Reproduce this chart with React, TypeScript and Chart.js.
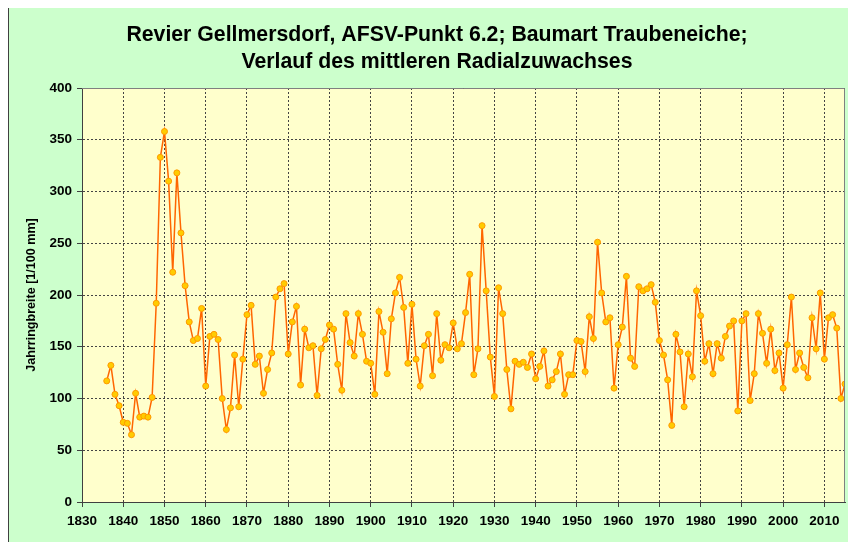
import React, { useEffect, useRef } from "react";
import { Chart, registerables } from "chart.js";

Chart.register(...registerables);

const TITLE_LINES = [
  "Revier Gellmersdorf, AFSV-Punkt 6.2; Baumart Traubeneiche;",
  "Verlauf des mittleren Radialzuwachses",
];
const Y_TITLE = "Jahrringbreite [1/100 mm]";

const START_YEAR = 1836;
// mean ring width [1/100 mm], 1836 .. 2015
const widths = [
  117, 132, 104, 93, 77, 76, 65, 105, 82, 83, 82, 101, 192, 333,
  358, 310, 222, 318, 260, 209, 174, 156, 158, 187,
  112, 160, 162, 157, 100, 70, 91, 142, 92, 138,
  181, 190, 133, 141, 105, 128, 144, 198, 206, 211,
  143, 174, 189, 113, 167, 149, 151, 103, 148, 157,
  171, 167, 133, 108, 182, 154, 141, 182, 162, 136,
  134, 104, 184, 164, 124, 177, 202, 217, 188, 134,
  191, 138, 112, 151, 162, 122, 182, 137, 152, 149,
  173, 148, 153, 183, 220, 123, 148, 267, 204, 140,
  102, 207, 182, 128, 90, 136, 133, 135, 130, 143,
  119, 131, 146, 112, 118, 126, 143, 104, 123, 123,
  156, 155, 126, 179, 158, 251, 202, 174, 178, 110,
  152, 169, 218, 139, 131, 208, 204, 206, 210, 193,
  156, 142, 118, 74, 162, 145, 92, 143, 121, 204,
  180, 136, 153, 124, 153, 139, 160, 170, 175, 88,
  175, 182, 98, 124, 182, 163, 134, 167, 127, 144,
  110, 152, 198, 128, 144, 130, 120, 178, 148, 202,
  138, 178, 181, 168, 100, 114,
];
const years = widths.map((_, i) => START_YEAR + i);

const X_MIN = 1830;
const X_MAX = 2015;
const X_STEP = 10;
const Y_MIN = 0;
const Y_MAX = 400;
const Y_STEP = 50;

const FONT = "'Liberation Sans', Arial, sans-serif";

export default function App() {
  const ref = useRef<HTMLCanvasElement | null>(null);

  useEffect(() => {
    document.documentElement.style.overflow = "hidden";
    document.body.style.overflow = "hidden";
    const canvas = ref.current;
    if (!canvas) return;

    const decor = {
      id: "decor",
      beforeDraw(chart: any) {
        const { ctx, chartArea } = chart;
        ctx.save();
        ctx.fillStyle = "#FFFFCC";
        ctx.fillRect(
          chartArea.left,
          chartArea.top,
          chartArea.right - chartArea.left,
          chartArea.bottom - chartArea.top
        );
        ctx.restore();
      },
      afterDraw(chart: any) {
        const { ctx, chartArea } = chart;
        ctx.save();
        ctx.strokeStyle = "#808080";
        ctx.lineWidth = 1;
        ctx.beginPath();
        ctx.moveTo(chartArea.left, chartArea.top + 0.5);
        ctx.lineTo(chartArea.right - 0.5, chartArea.top + 0.5);
        ctx.lineTo(chartArea.right - 0.5, chartArea.bottom);
        ctx.stroke();
        ctx.restore();

        ctx.save();
        ctx.fillStyle = "#000";
        ctx.textAlign = "center";
        ctx.textBaseline = "middle";
        ctx.font = `bold 22px ${FONT}`;
        ctx.save();
        ctx.translate(428, 27);
        ctx.scale(0.966, 1);
        ctx.fillText(TITLE_LINES[0], 0, 0);
        ctx.restore();
        ctx.save();
        ctx.translate(428, 54);
        ctx.scale(0.966, 1);
        ctx.fillText(TITLE_LINES[1], 0, 0);
        ctx.restore();

        ctx.translate(22, (chartArea.top + chartArea.bottom) / 2);
        ctx.rotate(-Math.PI / 2);
        ctx.scale(0.93, 1);
        ctx.font = `bold 13.5px ${FONT}`;
        ctx.fillText(Y_TITLE, 0, 0);
        ctx.restore();
      },
    };

    const chart = new Chart(canvas, {
      type: "scatter",
      data: {
        datasets: [
          {
            data: years.map((y, i) => ({ x: y, y: widths[i] })),
            showLine: true,
            borderColor: "#FF6600",
            borderWidth: 1.5,
            pointBackgroundColor: "#FFCC00",
            pointBorderColor: "#FF9900",
            pointBorderWidth: 1,
            pointRadius: 3,
            tension: 0,
          },
        ],
      },
      options: {
        animation: false,
        responsive: false,
        maintainAspectRatio: false,
        layout: { padding: { top: 80, right: 11, left: 0, bottom: 0 } },
        plugins: {
          legend: { display: false },
          title: { display: false },
          tooltip: { enabled: false },
        },
        scales: {
          x: {
            type: "linear",
            min: X_MIN,
            max: X_MAX,
            afterFit(scale: any) {
              scale.height = 40;
            },
            ticks: {
              stepSize: X_STEP,
              includeBounds: false,
              autoSkip: false,
              maxRotation: 0,
              padding: 6,
              color: "#000",
              font: { family: FONT, size: 13.5, weight: "bold" },
              callback: (v: any) => String(v),
            },
            grid: {
              color: "#444",
              lineWidth: 1,
              tickLength: 5,
              tickColor: "#404040",
            },
            border: { color: "#404040", width: 1, dash: [2, 2] },
          },
          y: {
            type: "linear",
            min: Y_MIN,
            max: Y_MAX,
            afterFit(scale: any) {
              scale.width = 73;
            },
            ticks: {
              stepSize: Y_STEP,
              padding: 5,
              color: "#000",
              font: { family: FONT, size: 13.5, weight: "bold" },
            },
            grid: {
              color: "#444",
              lineWidth: 1,
              tickLength: 5,
              tickColor: "#404040",
            },
            border: { color: "#404040", width: 1, dash: [2, 2] },
          },
        },
      },
      plugins: [decor],
    });
    return () => chart.destroy();
  }, []);

  return (
    <div
      style={{
        position: "relative",
        marginTop: -1,
        width: 848,
        height: 535,
        boxSizing: "border-box",
        background: "#CCFFCC",
        borderTop: "1px solid #404040",
        borderLeft: "1px solid #404040",
      }}
    >
      <canvas
        ref={ref}
        width={847}
        height={534}
        style={{ position: "absolute", left: 0, top: 0, width: 847, height: 534 }}
      />
    </div>
  );
}
